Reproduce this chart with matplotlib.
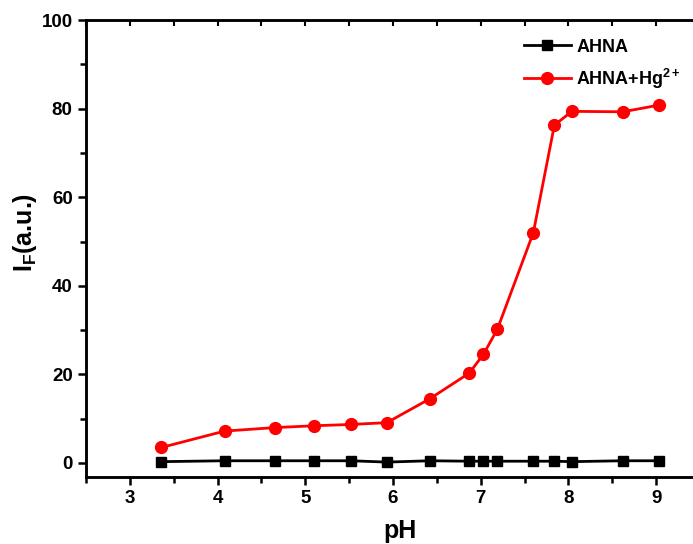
import matplotlib
matplotlib.use("Agg")
import matplotlib.pyplot as plt
from matplotlib.ticker import MultipleLocator

plt.rcParams['font.family'] = ['Liberation Sans', 'DejaVu Sans']
plt.rcParams['font.weight'] = 'bold'
plt.rcParams['mathtext.fontset'] = 'custom'
plt.rcParams['mathtext.rm'] = 'Liberation Sans:bold'
plt.rcParams['mathtext.bf'] = 'Liberation Sans:bold'
plt.rcParams['mathtext.it'] = 'Liberation Sans:bold'
plt.rcParams['mathtext.default'] = 'bf'

ph = [3.36, 4.08, 4.66, 5.10, 5.52, 5.93, 6.42, 6.87, 7.03, 7.19, 7.60, 7.84, 8.04, 8.62, 9.03]
ahna = [0.3, 0.5, 0.5, 0.5, 0.5, 0.2, 0.5, 0.4, 0.4, 0.4, 0.4, 0.4, 0.3, 0.5, 0.5]
ahna_hg = [3.5, 7.2, 8.0, 8.4, 8.7, 9.1, 14.5, 20.3, 24.5, 30.2, 52.0, 76.3, 79.4, 79.3, 80.8]

fig = plt.figure(figsize=(6.93, 5.44), dpi=100)
ax = fig.add_axes([0.124, 0.1237, 0.876, 0.8393])

ax.plot(ph, ahna, color='black', marker='s', markersize=7, linewidth=2, label='AHNA')
ax.plot(ph, ahna_hg, color='red', marker='o', markersize=8.5, linewidth=2, label='AHNA+Hg$^{2+}$')

ax.set_xlim(2.5, 9.42)
ax.set_ylim(-3.1, 100)
ax.xaxis.set_major_locator(MultipleLocator(1))
ax.xaxis.set_minor_locator(MultipleLocator(0.5))
ax.yaxis.set_major_locator(MultipleLocator(20))
ax.yaxis.set_minor_locator(MultipleLocator(10))

for s in ['left', 'bottom', 'top']:
    ax.spines[s].set_linewidth(1.8)
ax.spines['right'].set_visible(False)

ax.tick_params(axis='both', which='major', direction='out', length=6, width=1.8, labelsize=13.5)
ax.tick_params(axis='both', which='minor', direction='out', length=4, width=1.8)
ax.tick_params(axis='x', which='both', top=False)

# top axis ticks, pointing inward
ax_top = ax.twiny()
ax_top.set_xlim(ax.get_xlim())
ax_top.xaxis.set_major_locator(MultipleLocator(0.5))
ax_top.tick_params(axis='x', which='major', direction='in', length=4, width=1.5, labeltop=False)
ax_top.spines['right'].set_visible(False)
for s in ax_top.spines.values():
    s.set_linewidth(1.8)

for lab in ax.get_xticklabels() + ax.get_yticklabels():
    lab.set_fontweight('bold')

ax.set_xlabel('pH', fontsize=18, fontweight='bold')
ax.xaxis.set_label_coords(0.517, -0.093)
ax.xaxis.label.set_va('top')
ax.set_ylabel(r'$\mathbf{I_F}$(a.u.)', fontsize=18, fontweight='bold')
ax.yaxis.set_label_coords(-0.077, 0.535)

leg = ax.legend(loc='upper right', bbox_to_anchor=(1.007, 0.995), frameon=False,
                prop={'size': 13, 'weight': 'bold'}, handlelength=2.6, handletextpad=0.3,
                labelspacing=0.6)

fig.savefig('out.png', dpi=100)
